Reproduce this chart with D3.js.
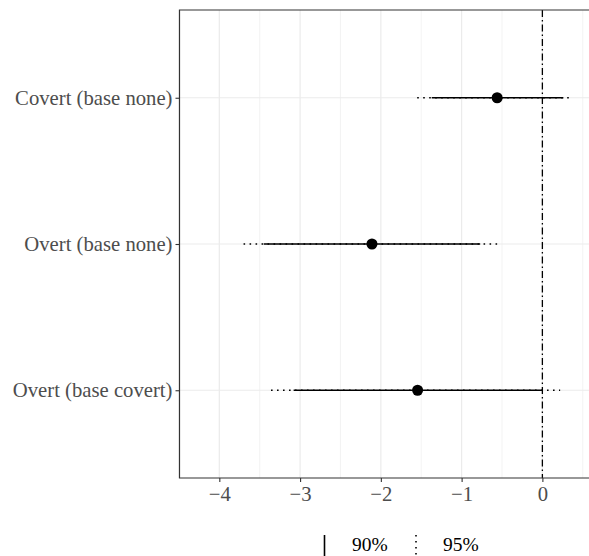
<!DOCTYPE html>
<html>
<head>
<meta charset="utf-8">
<script src="https://cdn.jsdelivr.net/npm/d3@7"></script>
<style>
  body { margin: 0; background: #fff; }
  svg { display: block; }
  text { font-family: "Liberation Serif", "DejaVu Serif", serif; }
</style>
</head>
<body>
<svg id="chart" width="589" height="556"></svg>
<script>
// chart values
let categories = ["Covert (base none)", "Overt (base none)", "Overt (base covert)"];
let estimates = [-0.56, -2.11, -1.545];
let lo90 = [-1.37, -3.45, -3.08];
let hi90 = [0.26, -0.77, 0.0];
let lo95 = [-1.55, -3.70, -3.36];
let hi95 = [0.36, -0.54, 0.22];
let xTicks = [-4, -3, -2, -1, 0];
let xMinor = [-4.5, -3.5, -2.5, -1.5, -0.5, 0.5];
let legendLabels = ["90%", "95%"];

let rows = categories.map((c, i) => ({
    name: c, est: estimates[i],
    lo90: lo90[i], hi90: hi90[i],
    lo95: lo95[i], hi95: hi95[i]
}));

//panel box
let panelLeft = 179.5, panelTop = 10, panelRight = 591, panelBottom = 478;
let axisFont = 20.7;
let legendFont = 19.5;

let svg = d3.select('#chart');

let x = d3.scaleLinear()
    .domain([-4.493, 0.602])
    .range([panelLeft, panelRight]);

let y = d3.scalePoint()
    .domain(categories)
    .range([panelTop, panelBottom])
    .padding(0.6);

//grid
let grid = svg.append('g');
grid.selectAll('.minor')
    .data(xMinor)
    .join('line')
    .attr('x1', d => x(d)).attr('x2', d => x(d))
    .attr('y1', panelTop).attr('y2', panelBottom)
    .attr('stroke', '#EBEBEB').attr('stroke-width', 0.6);

grid.selectAll('.majorx')
    .data(xTicks)
    .join('line')
    .attr('x1', d => x(d)).attr('x2', d => x(d))
    .attr('y1', panelTop).attr('y2', panelBottom)
    .attr('stroke', '#EBEBEB').attr('stroke-width', 1.2);

grid.selectAll('.majory')
    .data(categories)
    .join('line')
    .attr('x1', panelLeft).attr('x2', panelRight)
    .attr('y1', d => y(d)).attr('y2', d => y(d))
    .attr('stroke', '#EBEBEB').attr('stroke-width', 1.2);

//reference line at zero
svg.append('line')
    .attr('x1', x(0)).attr('x2', x(0))
    .attr('y1', panelTop).attr('y2', panelBottom)
    .attr('stroke', '#000').attr('stroke-width', 1.3)
    .attr('stroke-dasharray', '7,3,1.5,3');

//95% intervals (dotted)
svg.append('g').selectAll('line')
    .data(rows)
    .join('line')
    .attr('x1', d => x(d.lo95)).attr('x2', d => x(d.hi95))
    .attr('y1', d => y(d.name)).attr('y2', d => y(d.name))
    .attr('stroke', '#000').attr('stroke-width', 1.6)
    .attr('stroke-dasharray', '1.6,4.4');

//90% intervals (solid)
svg.append('g').selectAll('line')
    .data(rows)
    .join('line')
    .attr('x1', d => x(d.lo90)).attr('x2', d => x(d.hi90))
    .attr('y1', d => y(d.name)).attr('y2', d => y(d.name))
    .attr('stroke', '#000').attr('stroke-width', 1.6);

//point estimates
svg.append('g').selectAll('circle')
    .data(rows)
    .join('circle')
    .attr('cx', d => x(d.est))
    .attr('cy', d => y(d.name))
    .attr('r', 5.5)
    .attr('fill', '#000');

//panel border
svg.append('path')
    .attr('d', `M${panelRight},${panelTop}H${panelLeft}V${panelBottom}H${panelRight}`)
    .attr('fill', 'none')
    .attr('stroke', '#333').attr('stroke-width', 1.2);

//x axis
let xAxis = svg.append('g')
    .attr('transform', `translate(0,${panelBottom})`)
    .call(d3.axisBottom(x).tickValues(xTicks).tickSize(4).tickPadding(4)
        .tickFormat(d => d < 0 ? '\u2212' + Math.abs(d) : d));
xAxis.select('.domain').remove();
xAxis.selectAll('line').attr('stroke', '#333').attr('stroke-width', 1.1);
xAxis.selectAll('text')
    .attr('fill', '#4D4D4D')
    .style('font-size', axisFont + 'px')
    .style('font-family', '"Liberation Serif", serif');

//y axis
let yAxis = svg.append('g')
    .attr('transform', `translate(${panelLeft},0)`)
    .call(d3.axisLeft(y).tickSize(4).tickPadding(3));
yAxis.select('.domain').remove();
yAxis.selectAll('line').attr('stroke', '#333').attr('stroke-width', 1.1);
yAxis.selectAll('text')
    .attr('fill', '#4D4D4D')
    .style('font-size', axisFont + 'px')
    .style('font-family', '"Liberation Serif", serif');

//legend
let legend = svg.append('g');
let keyX = [324.5, 416];
let labelX = [352, 443];
legend.selectAll('line')
    .data(legendLabels)
    .join('line')
    .attr('x1', (d, i) => keyX[i]).attr('x2', (d, i) => keyX[i])
    .attr('y1', 535).attr('y2', 558)
    .attr('stroke', '#000').attr('stroke-width', 1.6)
    .attr('stroke-dasharray', (d, i) => i == 1 ? '1.6,4.4' : null);
legend.selectAll('text')
    .data(legendLabels)
    .join('text')
    .attr('x', (d, i) => labelX[i])
    .attr('y', 551)
    .attr('fill', '#000')
    .style('font-size', legendFont + 'px')
    .text(d => d);
</script>
</body>
</html>
